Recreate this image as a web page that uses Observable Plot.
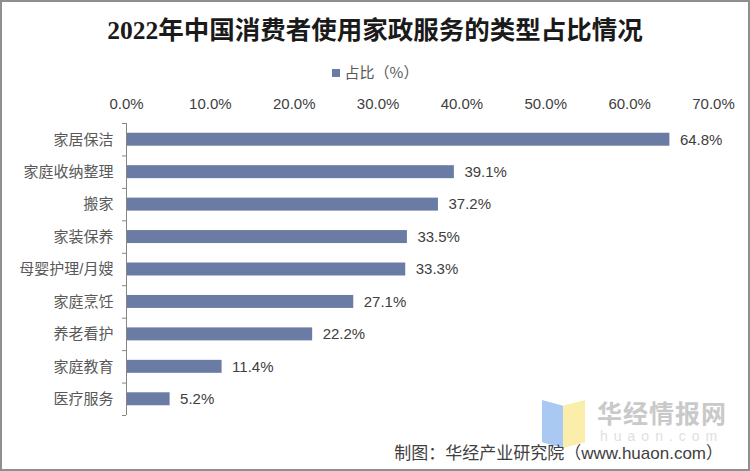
<!DOCTYPE html>
<html><head><meta charset="utf-8">
<script src="https://cdn.jsdelivr.net/npm/d3@7"></script>
<script src="https://cdn.jsdelivr.net/npm/@observablehq/plot@0.6"></script>
<style>
body{margin:0;background:#fff;}
#wrap{position:relative;width:750px;height:471px;overflow:hidden;background:#fff;font-family:"Noto Sans CJK SC",sans-serif;}
#frame{position:absolute;left:0;top:0;width:750px;height:471px;box-sizing:border-box;border:2px solid #8f8f8f;pointer-events:none;z-index:5}
#title{position:absolute;left:0;width:750px;top:17px;text-align:center;font-size:25.5px;line-height:28px;font-family:"Liberation Serif","Noto Sans CJK SC",serif;font-weight:700;color:#1a1a1a;z-index:2}
#legend{position:absolute;left:0;width:750px;top:62px;text-align:center;font-size:15px;line-height:20px;color:#595959;z-index:2}
#legend .sw{display:inline-block;width:8px;height:8px;background:#6a7ca3;margin-right:5px;vertical-align:middle;position:relative;top:-1px}
#chart{position:absolute;left:0;top:85px;z-index:2}
#wm{position:absolute;left:0;top:0;width:750px;height:471px;z-index:1}
.pb{position:absolute;background:#a9c9f2}
.py{position:absolute;background:#fbeeaa}
#wmt{position:absolute;left:597px;top:400px;font-size:25px;line-height:28px;font-weight:700;letter-spacing:1px;color:#c9c9c9;font-family:"Liberation Sans","Noto Sans CJK SC",sans-serif}
#wmu{position:absolute;left:600px;top:428px;font-size:14px;line-height:16px;color:#e0e0e0;letter-spacing:6px;font-family:"Liberation Sans",sans-serif}
#caption{position:absolute;right:27px;top:444px;font-size:17px;line-height:19px;color:#404040;font-family:"Liberation Sans","Noto Sans CJK SC",sans-serif;z-index:3}
</style>
</head>
<body>
<div id="wrap">
  <div id="wm">
    <div class="pb" style="left:542px;top:400px;width:21px;height:48px;clip-path:polygon(0 0,100% 12%,100% 100%,0 88%)"></div>
    <div class="py" style="left:563px;top:400px;width:22px;height:48px;clip-path:polygon(0 12%,100% 0,100% 88%,0 100%)"></div>
    <div id="wmt">华经情报网</div>
    <div id="wmu">huaon.com</div>
  </div>
  <div id="title">2022年中国消费者使用家政服务的类型占比情况</div>
  <div id="legend"><span class="sw"></span>占比（%）</div>
  <div id="chart"></div>
  <div id="caption">制图：华经产业研究院（www.huaon.com）</div>
  <div id="frame"></div>
</div>
<script>
const categories = ["家居保洁","家庭收纳整理","搬家","家装保养","母婴护理/月嫂","家庭烹饪","养老看护","家庭教育","医疗服务"];
const shares = [64.8, 39.1, 37.2, 33.5, 33.3, 27.1, 22.2, 11.4, 5.2];
const xTicks = [0, 10, 20, 30, 40, 50, 60, 70];

const barColor = "#6a7ca3";
const data = categories.map((c, i) => ({category: c, idx: i, share: shares[i]}));
const idxs = d3.range(categories.length);
const bounds = d3.range(categories.length + 1).map(i => i - 0.5);
const half = 0.2;

const chart = Plot.plot({
  width: 750,
  height: 386,
  marginLeft: 126,
  marginRight: 37,
  marginTop: 38,
  marginBottom: 56,
  style: {fontFamily: "'Liberation Sans','Noto Sans CJK SC',sans-serif", fontSize: "15px", background: "transparent"},
  x: {domain: [xTicks[0], xTicks[xTicks.length - 1]]},
  y: {domain: [-0.5, categories.length - 0.5], reverse: true},
  marks: [
    Plot.rect(data, {x1: 0, x2: "share", y1: d => d.idx - half, y2: d => d.idx + half, fill: barColor}),
    Plot.text(data, {x: "share", y: "idx", text: d => d.share.toFixed(1) + "%", textAnchor: "start", dx: 10, fontSize: 15, fill: "#404040"}),
    Plot.axisX(xTicks, {anchor: "top", tickSize: 0, tickPadding: 15, tickFormat: d => d.toFixed(1) + "%", color: "#404040", fontSize: 15, label: null}),
    Plot.axisY(idxs, {anchor: "left", tickSize: 0, tickPadding: 13, tickFormat: i => categories[i], color: "#595959", fontSize: 15, label: null}),
    Plot.axisY(bounds, {anchor: "left", tickSize: 4, tickFormat: () => "", stroke: "#868686", label: null}),
    Plot.ruleX([0], {y1: -0.5, y2: categories.length - 0.5, stroke: "#868686"})
  ]
});
document.getElementById("chart").appendChild(chart);
</script>
</body></html>
